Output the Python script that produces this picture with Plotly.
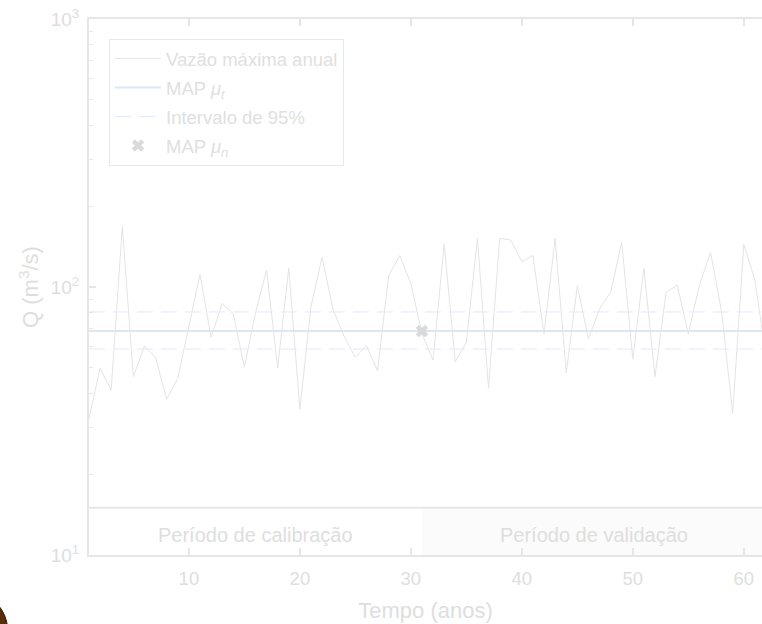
import plotly.graph_objects as go

# ---- data ----
anos = list(range(1, 63))
vazao_max = [32.4, 49.7, 41.3, 168.0, 46.3, 60.3, 54.5, 38.1, 45.6, 71.0,
             111.5, 64.9, 86.9, 79.3, 50.2, 80.0, 115.7, 50.0, 117.4, 35.0,
             84.5, 129.0, 82.0, 65.3, 54.7, 60.4, 48.7, 110.0, 131.0, 103.0,
             67.0, 53.4, 144.6, 52.6, 62.0, 152.0, 41.9, 152.0, 149.7, 124.3,
             131.0, 66.8, 152.0, 47.7, 101.0, 64.0, 82.8, 95.5, 146.8, 53.8,
             117.4, 46.3, 95.5, 101.7, 66.8, 101.7, 134.7, 80.9, 33.8, 144.2,
             106.2, 55.0]
map_mu_t = 68.5
intervalo_inf = 58.7
intervalo_sup = 80.7
map_mu_n_x = 31
map_mu_n_y = 68.5
calib_fim = 31
x_min, x_max = 1, 62
band_low, band_high = 10, 15
x_ticks = [10, 20, 30, 40, 50, 60]
y_ticks = [10, 100, 1000]
y_ticktext = ["10<sup>1</sup>", "10<sup>2</sup>", "10<sup>3</sup>"]

FONT = "Liberation Sans, Arial, Helvetica, sans-serif"
TXT = "#dedede"
AX = "#e6e6e6"

fig = go.Figure()

fig.add_trace(go.Scatter(
    x=anos, y=vazao_max, mode="lines", name="Vazão máxima anual",
    line=dict(color="#e4e4e4", width=1), legendgroup="a"))
fig.add_trace(go.Scatter(
    x=[x_min, x_max], y=[map_mu_t, map_mu_t], mode="lines",
    name="MAP <i>μ</i><sub><i>t</i></sub>",
    line=dict(color="#dde6f5", width=2), legendgroup="b"))
fig.add_trace(go.Scatter(
    x=[x_min, x_max], y=[intervalo_sup, intervalo_sup], mode="lines",
    name="Intervalo de 95%",
    line=dict(color="#e2e9f6", width=1, dash="16px,8px"), legendgroup="c"))
fig.add_trace(go.Scatter(
    x=[x_min, x_max], y=[intervalo_inf, intervalo_inf], mode="lines",
    showlegend=False,
    line=dict(color="#e2e9f6", width=1, dash="16px,8px"), legendgroup="c"))
fig.add_trace(go.Scatter(
    x=[map_mu_n_x], y=[map_mu_n_y], mode="markers",
    name="MAP <i>μ</i><sub><i>n</i></sub>",
    marker=dict(symbol="x", size=11, color="#dadada", line=dict(width=0)),
    legendgroup="d"))

# period band
fig.add_shape(type="rect", xref="x", yref="y", x0=calib_fim, x1=x_max,
              y0=band_low, y1=band_high, fillcolor="#fbfbfb",
              line=dict(width=0), layer="below")
fig.add_shape(type="line", xref="x", yref="y", x0=x_min, x1=x_max,
              y0=band_high, y1=band_high, line=dict(color=AX, width=2))
fig.add_annotation(x=(x_min + calib_fim) / 2, y=1.075, xref="x", yref="y",
                   text="Período de calibração", showarrow=False,
                   font=dict(family=FONT, size=20, color=TXT))
fig.add_annotation(x=(calib_fim + x_max) / 2, y=1.075, xref="x", yref="y",
                   text="Período de validação", showarrow=False,
                   font=dict(family=FONT, size=20, color=TXT))

# artifact at bottom-left corner
fig.add_shape(type="circle", xref="paper", yref="paper",
              x0=-0.2327, x1=-0.121, y0=-0.210, y1=-0.0698,
              fillcolor="#5a2c0c", line=dict(color="#2a1505", width=1))

fig.update_layout(
    width=762, height=624,
    margin=dict(l=89, r=0, t=19, b=69),
    paper_bgcolor="white", plot_bgcolor="white",
    font=dict(family=FONT, color=TXT),
    showlegend=True,
    legend=dict(x=0.0297, y=0.963, xanchor="left", yanchor="top",
                bgcolor="white", bordercolor="#e8e8e8", borderwidth=1,
                font=dict(family=FONT, size=18.5, color="#e0e0e0"),
                tracegroupgap=2, itemwidth=46),
    xaxis=dict(range=[x_min, 61.64], tickvals=x_ticks,
               ticks="inside", ticklen=7, tickwidth=2, tickcolor=AX,
               showline=True, linecolor=AX, linewidth=2, mirror="ticks",
               showgrid=False, zeroline=False, ticklabelstandoff=6,
               tickfont=dict(family=FONT, size=18.5, color=TXT),
               title=dict(text="Tempo (anos)", standoff=14,
                          font=dict(family=FONT, size=22, color=TXT))),
    yaxis=dict(type="log", range=[1, 3], tickvals=y_ticks, ticktext=y_ticktext,
               ticks="inside", ticklen=7, tickwidth=2, tickcolor=AX,
               showline=True, linecolor=AX, linewidth=2,
               showgrid=False, zeroline=False, ticklabelstandoff=4,
               minor=dict(ticks="inside", ticklen=4, tickwidth=1,
                          tickcolor=AX, dtick="D1", showgrid=False),
               tickfont=dict(family=FONT, size=19, color=TXT),
               title=dict(text="Q (m<sup>3</sup>/s)", standoff=6,
                          font=dict(family=FONT, size=22, color=TXT))),
)

fig.write_html("out.html",
               config={"displayModeBar": False},
               post_script="document.body.style.margin='0';"
                           "document.body.style.overflow='hidden';")
